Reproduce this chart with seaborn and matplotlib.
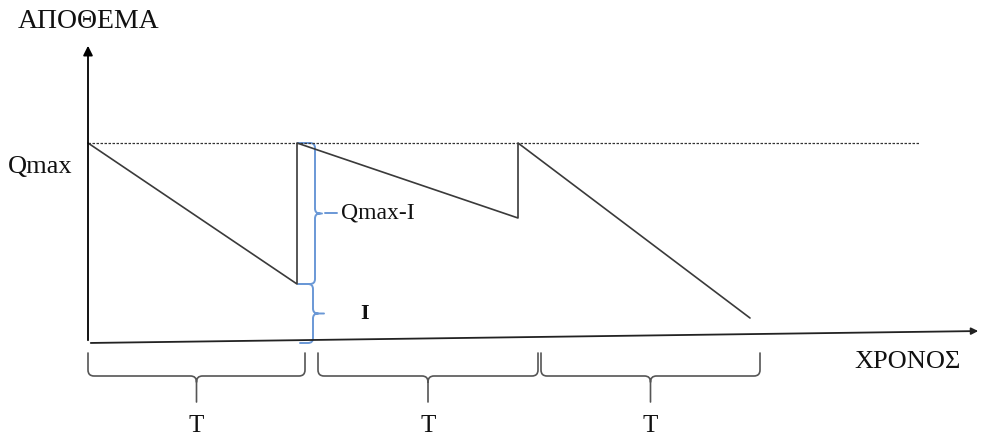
import matplotlib
matplotlib.use('Agg')
import matplotlib.pyplot as plt
import numpy as np
import pandas as pd
import seaborn as sns
from matplotlib.path import Path
from matplotlib.patches import PathPatch

# Sawtooth inventory data (time, stock), 1 unit ~ 1 pixel of the reference
time = [0, 209, 209, 430, 430, 662]
stock = [200, 59, 200, 125, 200, 25]
q_max = 200
reorder_level = 59
period_edges = [(0, 217), (230, 450), (453, 672)]
period_labels = ['Τ', 'Τ', 'Τ']

sns.set_theme(style='white')
plt.rcParams['font.family'] = ['Liberation Serif', 'DejaVu Serif']

df = pd.DataFrame({'time': time, 'stock': stock})

fig = plt.figure(figsize=(9.81, 4.37), dpi=100)
ax = fig.add_axes([0, 0, 1, 1])
ax.set_xlim(-88, 893)
ax.set_ylim(-94, 343)
ax.axis('off')


def brace(ax, a, b, normal, h, r, tip, color, lw):
    a = np.array(a, float)
    b = np.array(b, float)
    n = np.array(normal, float)
    u = (b - a) / np.linalg.norm(b - a)
    m = (a + b) / 2
    verts = [a, a + n * (h - r), a + n * h, a + n * h + u * r,
             m - u * r + n * h, m + n * h, m + n * (h + r), m + n * (h + tip),
             m + n * (h + r), m + n * h, m + u * r + n * h,
             b - u * r + n * h, b + n * h, b + n * (h - r), b]
    codes = [Path.MOVETO, Path.LINETO, Path.CURVE3, Path.CURVE3,
             Path.LINETO, Path.CURVE3, Path.CURVE3, Path.LINETO,
             Path.MOVETO, Path.CURVE3, Path.CURVE3,
             Path.LINETO, Path.CURVE3, Path.CURVE3, Path.LINETO]
    ax.add_patch(PathPatch(Path(verts, codes), fill=False, color=color, lw=lw,
                           capstyle='round', joinstyle='round'))


# axes with arrows
ax.annotate('', xy=(0, 300), xytext=(0, 0),
            arrowprops=dict(arrowstyle='-|>', color='black', lw=1.3, mutation_scale=14))
ax.annotate('', xy=(893, 12), xytext=(0, 0),
            arrowprops=dict(arrowstyle='-|>', color='#222222', lw=1.3, mutation_scale=10))

# Qmax reference line
ax.plot([0, 832], [q_max, q_max], color='#333333', lw=0.9, ls=(0, (2, 1.2)))

# sawtooth
sns.lineplot(data=df, x='time', y='stock', sort=False, estimator=None,
             color='#3a3a3a', lw=1.2, ax=ax)

# blue braces for Qmax-I and I
blue = '#6a98d6'
brace(ax, (210, q_max), (210, reorder_level), (1, 0), 17, 5, 7, blue, 1.4)
ax.plot([237, 249], [130, 130], color=blue, lw=1.4)
brace(ax, (212, reorder_level), (212, 0), (1, 0), 13, 5, 11, blue, 1.4)

# period braces under the time axis
for (x0, x1), lab in zip(period_edges, period_labels):
    brace(ax, (x0, -10), (x1, -10), (0, -1), 23, 6, 26, '#555555', 1.2)
    ax.text((x0 + x1) / 2, -83, lab, ha='center', va='center', fontsize=18, color='#111111')

# labels
ax.text(-70, 321, 'ΑΠΟΘΕΜΑ', ha='left', va='center', fontsize=20, color='#111111')
ax.text(-80, 176, 'Qmax', ha='left', va='center', fontsize=19, color='#111111')
ax.text(253, 130, 'Qmax-I', ha='left', va='center', fontsize=17, color='#111111')
ax.text(277, 29, 'I', ha='center', va='center', fontsize=16, fontweight='bold', color='#111111')
ax.text(820, -19, 'ΧΡΟΝΟΣ', ha='center', va='center', fontsize=19, color='#111111')

fig.savefig('out.png', dpi=100, facecolor='white')
